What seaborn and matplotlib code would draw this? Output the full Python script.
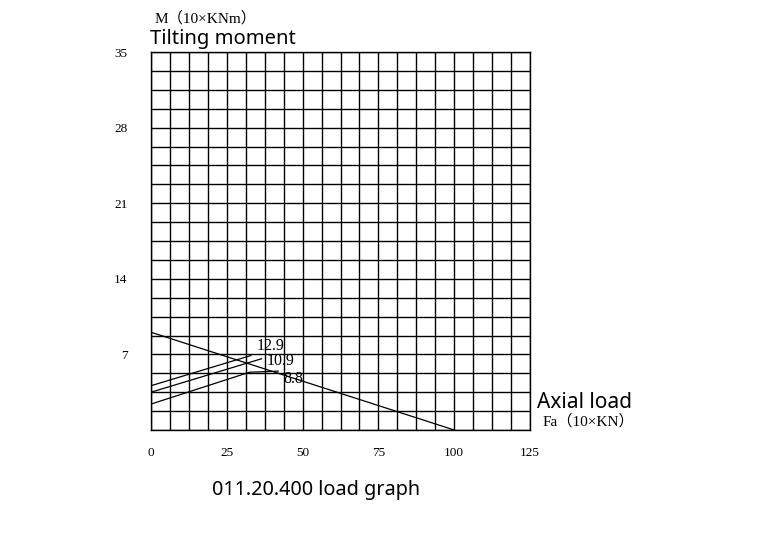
import matplotlib
matplotlib.use('Agg')
import matplotlib.pyplot as plt
from matplotlib.ticker import MultipleLocator
import seaborn as sns

# limit line of the bearing and the three bolt grade curves
limit_fa = [0, 100]
limit_m = [9.05, 0]

g129_fa = [0, 33]
g129_m = [4.1, 6.9]
g109_fa = [0, 36.5]
g109_m = [3.5, 6.6]
g88_fa = [0, 32.5, 42]
g88_m = [2.4, 5.35, 5.45]

grade_labels = ['12.9', '10.9', '8.8']
label_fa = [34.8, 38.2, 43.5]
label_m = [7.45, 6.05, 4.35]

x_ticks = [0, 25, 50, 75, 100, 125]
y_ticks = [7, 14, 21, 28, 35]

sns.set_style('white')
plt.rcParams['text.color'] = 'black'
plt.rcParams['xtick.color'] = 'black'
plt.rcParams['ytick.color'] = 'black'
serif = ['Liberation Serif', 'Noto Sans CJK SC']
sans = ['Noto Sans', 'DejaVu Sans']

fig = plt.figure(figsize=(7.68, 5.43), dpi=100)
ax = fig.add_axes([151/768, 1-430/543, 379/768, 378/543])

sns.lineplot(x=limit_fa, y=limit_m, ax=ax, color='black', lw=0.9, sort=False)
sns.lineplot(x=g129_fa, y=g129_m, ax=ax, color='black', lw=0.9, sort=False)
sns.lineplot(x=g109_fa, y=g109_m, ax=ax, color='black', lw=0.9, sort=False)
sns.lineplot(x=g88_fa, y=g88_m, ax=ax, color='black', lw=0.9, sort=False)

for t, xx, yy in zip(grade_labels, label_fa, label_m):
    ax.text(xx, yy, t, family=serif, fontsize=11.5, color='black')

ax.set_xlim(0, 125)
ax.set_ylim(0, 35)
ax.set_xticks(x_ticks)
ax.set_yticks(y_ticks)
ax.xaxis.set_minor_locator(MultipleLocator(6.25))
ax.yaxis.set_minor_locator(MultipleLocator(1.75))
ax.grid(which='both', color='black', lw=1.0)
ax.set_axisbelow(True)
for s in ax.spines.values():
    s.set_color('black')
    s.set_linewidth(1.0)
ax.tick_params(which='both', length=0)
ax.tick_params(axis='x', pad=12)
ax.tick_params(axis='y', pad=17)
for lab in ax.get_xticklabels() + ax.get_yticklabels():
    lab.set_family(serif)
    lab.set_fontsize(9.5)
    lab.set_color('black')
ax.set_xlabel('')
ax.set_ylabel('')

fig.text(155/768, 1-18/543, 'M（10×KNm）', family=serif, fontsize=11, va='center', ha='left', color='black')
fig.text(150/768, 1-39/543, 'Tilting moment', family=sans, fontsize=14.5, va='center', ha='left', color='black')
fig.text(537/768, 1-402/543, 'Axial load', family=sans, fontsize=15, va='center', ha='left', color='black')
fig.text(543/768, 1-421/543, 'Fa（10×KN）', family=serif, fontsize=11, va='center', ha='left', color='black')
fig.text(212/768, 1-490/543, '011.20.400 load graph', family=sans, fontsize=14.3, va='center', ha='left', color='black')

fig.savefig('out.png', dpi=100)
